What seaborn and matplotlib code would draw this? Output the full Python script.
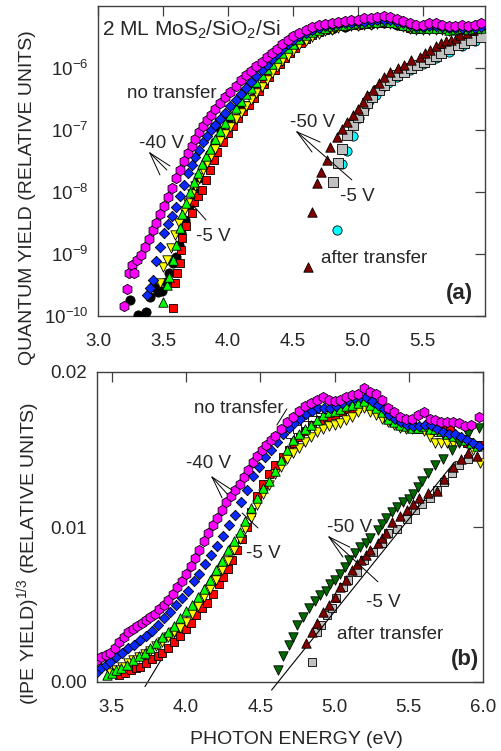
import numpy as np
import pandas as pd
import matplotlib
matplotlib.use("Agg")
import matplotlib.pyplot as plt
from matplotlib.ticker import NullLocator, FixedLocator, FixedFormatter
import seaborn as sns

# ---------------- data: panel (a), (photon energy eV, log10 quantum yield) ----------------
a_magenta = [(3.20,-9.84),(3.22,-9.57),(3.24,-9.30),(3.26,-9.18),(3.28,-9.30),(3.30,-9.10),
             (3.33,-9.02),(3.36,-8.88),(3.39,-8.75),(3.42,-8.62),(3.45,-8.50),(3.48,-8.36),
             (3.51,-8.22),(3.54,-8.08),(3.57,-7.94),(3.60,-7.78),(3.63,-7.64),(3.66,-7.50),
             (3.69,-7.37),(3.72,-7.25),(3.75,-7.14),(3.78,-7.03),(3.81,-6.93),(3.84,-6.84),
             (3.87,-6.75),(3.90,-6.66),(3.94,-6.56),(3.98,-6.47),(4.02,-6.38),(4.06,-6.29),
             (4.10,-6.20),(4.14,-6.12),(4.18,-6.05),(4.22,-5.97),(4.26,-5.90),(4.30,-5.83),
             (4.34,-5.76),(4.38,-5.69),(4.42,-5.62),(4.46,-5.55),(4.50,-5.49),(4.55,-5.43),
             (4.60,-5.38),(4.65,-5.34),(4.70,-5.31),(4.75,-5.29),(4.80,-5.27),(4.85,-5.25),
             (4.90,-5.24),(4.95,-5.23),(5.00,-5.22),(5.05,-5.20),(5.10,-5.19),(5.15,-5.18),
             (5.20,-5.16),(5.25,-5.18),(5.30,-5.21),(5.35,-5.24),(5.40,-5.28),(5.45,-5.31),
             (5.50,-5.30),(5.55,-5.28),(5.60,-5.28),(5.65,-5.30),(5.70,-5.33),(5.75,-5.32),
             (5.80,-5.31),(5.85,-5.32),(5.90,-5.30),(5.95,-5.28)]
a_blue = [(3.38,-9.66),(3.40,-9.55),(3.42,-9.42),(3.45,-9.12),(3.48,-8.88),(3.51,-8.66),
          (3.54,-8.52),(3.57,-8.38),(3.60,-8.24),(3.63,-8.06),(3.66,-7.88),(3.69,-7.69),
          (3.72,-7.56),(3.75,-7.44),(3.78,-7.32),(3.81,-7.20),(3.84,-7.09),(3.87,-7.00),
          (3.90,-6.92),(3.94,-6.82),(3.98,-6.72),(4.02,-6.62),(4.06,-6.52),(4.10,-6.42),
          (4.14,-6.32),(4.18,-6.23),(4.22,-6.13),(4.26,-6.04),(4.30,-5.95),(4.34,-5.86),
          (4.38,-5.78),(4.42,-5.70),(4.46,-5.62),(4.50,-5.55),(4.55,-5.48),(4.60,-5.43),
          (4.65,-5.39),(4.70,-5.36),(4.75,-5.33),(4.80,-5.31),(4.85,-5.29),(4.90,-5.28),
          (4.95,-5.27),(5.00,-5.26),(5.05,-5.25),(5.10,-5.24),(5.15,-5.23),(5.20,-5.22),
          (5.25,-5.23),(5.30,-5.25),(5.35,-5.28),(5.40,-5.31),(5.45,-5.34),(5.50,-5.34),
          (5.55,-5.33),(5.60,-5.33),(5.65,-5.34),(5.70,-5.36),(5.75,-5.36),(5.80,-5.35),
          (5.85,-5.36),(5.90,-5.35),(5.95,-5.34)]
a_black = [(3.25,-9.74),(3.31,-9.98),(3.37,-9.93),(3.40,-9.70),(3.43,-9.53),(3.46,-9.62),
           (3.49,-9.60),(3.52,-9.45),(3.55,-9.30),(3.58,-9.15),(3.60,-9.05),(3.62,-8.85),
           (3.64,-8.66),(3.67,-8.45),(3.70,-8.22),(3.74,-8.00),(3.78,-7.78),(3.82,-7.58),
           (3.86,-7.38),(3.90,-7.20),(3.95,-7.02),(4.00,-6.86),(4.10,-6.58),(4.20,-6.32),
           (4.30,-6.08),(4.40,-5.85),(4.50,-5.66),(4.60,-5.52),(4.70,-5.42),(4.80,-5.37),
           (4.90,-5.34),(5.00,-5.31),(5.10,-5.29),(5.20,-5.27),(5.30,-5.30),(5.40,-5.35),
           (5.50,-5.36),(5.60,-5.35),(5.70,-5.38),(5.80,-5.37),(5.90,-5.36)]
a_green = [(3.50,-9.77),(3.53,-9.50),(3.55,-9.37),(3.58,-9.10),(3.60,-8.85),(3.63,-8.58),
           (3.65,-8.36),(3.68,-8.17),(3.71,-8.00),(3.74,-7.84),(3.77,-7.69),(3.80,-7.55),
           (3.83,-7.42),(3.86,-7.30),(3.90,-7.15),(3.94,-7.01),(3.98,-6.88),(4.02,-6.76),
           (4.06,-6.64),(4.10,-6.53),(4.14,-6.42),(4.18,-6.32),(4.22,-6.22),(4.26,-6.12),
           (4.30,-6.02),(4.34,-5.93),(4.38,-5.84),(4.42,-5.76),(4.46,-5.68),(4.50,-5.61),
           (4.55,-5.53),(4.60,-5.47),(4.65,-5.42),(4.70,-5.38),(4.75,-5.35),(4.80,-5.33),
           (4.85,-5.31),(4.90,-5.30),(4.95,-5.29),(5.00,-5.28),(5.05,-5.27),(5.10,-5.26),
           (5.15,-5.25),(5.20,-5.24),(5.25,-5.25),(5.30,-5.27),(5.35,-5.30),(5.40,-5.33),
           (5.45,-5.36),(5.50,-5.36),(5.55,-5.35),(5.60,-5.35),(5.65,-5.36),(5.70,-5.38),
           (5.75,-5.37),(5.80,-5.36),(5.85,-5.37),(5.90,-5.36),(5.95,-5.35)]
a_yellow = [(3.48,-9.47),(3.50,-9.21),(3.53,-9.10),(3.56,-8.90),(3.59,-8.70),(3.62,-8.50),
            (3.66,-8.30),(3.69,-8.18),(3.72,-8.04),(3.75,-7.90),(3.78,-7.77),(3.81,-7.64),
            (3.84,-7.53),(3.87,-7.42),(3.90,-7.31),(3.94,-7.18),(3.98,-7.06),(4.02,-6.95),
            (4.06,-6.83),(4.10,-6.72),(4.14,-6.62),(4.18,-6.52),(4.22,-6.41),(4.26,-6.30),
            (4.30,-6.19),(4.34,-6.08),(4.38,-5.98),(4.42,-5.89),(4.46,-5.80),(4.50,-5.72),
            (4.55,-5.63),(4.60,-5.56),(4.65,-5.50),(4.70,-5.45),(4.75,-5.41),(4.80,-5.38),
            (4.85,-5.35),(4.90,-5.34),(4.95,-5.33),(5.00,-5.32),(5.05,-5.31),(5.10,-5.30),
            (5.15,-5.29),(5.20,-5.28),(5.25,-5.29),(5.30,-5.31),(5.35,-5.34),(5.40,-5.37),
            (5.45,-5.39),(5.50,-5.39),(5.55,-5.38),(5.60,-5.38),(5.65,-5.39),(5.70,-5.41),
            (5.75,-5.40),(5.80,-5.39),(5.85,-5.39),(5.90,-5.38),(5.95,-5.37)]
a_red = [(3.58,-9.87),(3.59,-9.47),(3.61,-9.30),(3.63,-9.15),(3.64,-8.94),(3.65,-8.74),
         (3.68,-8.55),(3.72,-8.34),(3.74,-8.16),(3.77,-8.06),(3.80,-7.96),(3.83,-7.80),
         (3.86,-7.64),(3.89,-7.48),(3.92,-7.36),(3.96,-7.20),(4.00,-7.05),(4.04,-6.93),
         (4.08,-6.81),(4.12,-6.70),(4.16,-6.60),(4.20,-6.48),(4.24,-6.37),(4.28,-6.25),
         (4.32,-6.14),(4.36,-6.03),(4.40,-5.93),(4.44,-5.84),(4.48,-5.75),(4.52,-5.67),
         (4.56,-5.59),(4.60,-5.53),(4.65,-5.47),(4.70,-5.42),(4.75,-5.38),(4.80,-5.35),
         (4.85,-5.33),(4.90,-5.32),(4.95,-5.31),(5.00,-5.30),(5.05,-5.29),(5.10,-5.28),
         (5.15,-5.27),(5.20,-5.26),(5.25,-5.27),(5.30,-5.29),(5.35,-5.32),(5.40,-5.35),
         (5.45,-5.37),(5.50,-5.37),(5.55,-5.36),(5.60,-5.36),(5.65,-5.37),(5.70,-5.39),
         (5.75,-5.38),(5.80,-5.37),(5.85,-5.38),(5.90,-5.37),(5.95,-5.36)]
a_maroon = [(4.62,-9.21),(4.65,-8.32),(4.69,-7.85),(4.72,-7.68),(4.76,-7.48),(4.79,-7.27),
            (4.84,-7.11),(4.88,-6.98),(4.92,-6.87),(4.96,-6.76),(5.00,-6.66),(5.04,-6.55),
            (5.07,-6.44),(5.12,-6.35),(5.16,-6.24),(5.20,-6.15),(5.25,-6.06),(5.31,-6.00),
            (5.36,-5.95),(5.41,-5.87),(5.48,-5.82),(5.52,-5.76),(5.56,-5.71),(5.60,-5.65),
            (5.64,-5.60),(5.68,-5.57),(5.72,-5.55),(5.76,-5.51),(5.79,-5.47),(5.84,-5.43),
            (5.89,-5.39),(5.96,-5.34)]
a_grey = [(4.81,-7.84),(4.85,-7.53),(4.88,-7.30),(4.92,-7.08),(4.96,-6.92),(5.00,-6.79),
          (5.04,-6.67),(5.07,-6.56),(5.11,-6.47),(5.16,-6.36),(5.20,-6.27),(5.25,-6.19),
          (5.30,-6.12),(5.36,-6.06),(5.41,-6.00),(5.46,-5.95),(5.51,-5.90),(5.56,-5.85),
          (5.60,-5.80),(5.64,-5.76),(5.70,-5.70),(5.77,-5.63),(5.82,-5.59),(5.87,-5.55),
          (5.95,-5.50)]
a_cyan = [(4.84,-8.61),(4.88,-7.55),(4.92,-7.34),(4.96,-7.10),(5.01,-6.81),(5.05,-6.66),
          (5.09,-6.54),(5.14,-6.43),(5.18,-6.32),(5.23,-6.24),(5.30,-6.15),(5.40,-6.04),
          (5.50,-5.94),(5.60,-5.84),(5.70,-5.74),(5.80,-5.64),(5.90,-5.56)]

# ---------------- data: panel (b), (photon energy eV, (IPE yield)^1/3) ----------------
b_magenta = [(3.40,.00142),(3.43,.00160),(3.46,.00175),(3.49,.00187),(3.52,.0022),(3.55,.0026),
             (3.58,.0029),(3.61,.0032),(3.64,.0034),(3.67,.0036),(3.70,.0038),(3.73,.0040),
             (3.76,.0042),(3.79,.0044),(3.82,.0047),(3.85,.0050),(3.88,.0053),(3.91,.0057),
             (3.94,.0061),(3.97,.0065),(4.00,.0070),(4.03,.0075),(4.06,.0080),(4.09,.0085),
             (4.12,.0091),(4.15,.0096),(4.18,.0101),(4.21,.0106),(4.24,.0111),(4.27,.0116),
             (4.30,.0120),(4.33,.0124),(4.36,.0128),(4.39,.0132),(4.42,.0137),(4.45,.0142),
             (4.48,.0146),(4.51,.0150),(4.54,.0153),(4.57,.0156),(4.60,.0159),(4.64,.0163),
             (4.68,.0168),(4.72,.0171),(4.76,.0175),(4.80,.0178),(4.84,.0180),(4.88,.0182),
             (4.92,.0184),(4.96,.0182),(5.00,.0181),(5.04,.0182),(5.08,.0184),(5.12,.0185),
             (5.16,.0186),(5.20,.0190),(5.24,.0187),(5.28,.0186),(5.32,.0182),(5.36,.0177),
             (5.40,.0174),(5.44,.0171),(5.48,.0170),(5.52,.0170),(5.56,.0172),(5.60,.0174),
             (5.64,.0170),(5.68,.0169),(5.72,.0168),(5.76,.0168),(5.80,.0168),(5.84,.0167),
             (5.88,.0165),(5.92,.0166),(5.97,.0171)]
b_blue = [(3.40,.00065),(3.43,.0009),(3.46,.0011),(3.49,.0013),(3.53,.0016),(3.57,.0019),
          (3.61,.0022),(3.65,.0024),(3.69,.0027),(3.73,.0030),(3.77,.0033),(3.81,.0037),
          (3.85,.0041),(3.89,.0045),(3.93,.0050),(3.97,.0054),(4.01,.0059),(4.05,.0065),
          (4.09,.0070),(4.13,.0076),(4.17,.0082),(4.21,.0088),(4.25,.0094),(4.29,.0101),
          (4.33,.0108),(4.37,.0116),(4.41,.0124),(4.45,.0133),(4.49,.0139),(4.53,.0145),
          (4.57,.0150),(4.61,.0155),(4.65,.0160),(4.69,.0164),(4.73,.0167),(4.77,.0170),
          (4.81,.0173),(4.85,.0175),(4.89,.0177),(4.93,.0177),(4.97,.0177),(5.01,.0178),
          (5.05,.0180),(5.09,.0182),(5.13,.0183),(5.17,.0184),(5.21,.0184),(5.25,.0181),
          (5.29,.0179),(5.33,.0176),(5.37,.0172),(5.41,.0170),(5.45,.0168),(5.49,.0166),
          (5.53,.0165),(5.57,.0165),(5.61,.0166),(5.65,.0166),(5.69,.0163),(5.73,.0161),
          (5.77,.0160),(5.81,.0160),(5.85,.0158),(5.89,.0156),(5.93,.0154),(5.97,.0152)]
b_green = [(3.47,.00045),(3.50,.0006),(3.53,.0008),(3.56,.0009),(3.60,.0011),(3.64,.0014),
           (3.68,.0017),(3.72,.0019),(3.76,.0022),(3.80,.0025),(3.84,.0029),(3.88,.0032),
           (3.92,.0036),(3.96,.0041),(4.00,.0046),(4.04,.0050),(4.08,.0055),(4.12,.0060),
           (4.16,.0066),(4.20,.0072),(4.24,.0078),(4.28,.0085),(4.32,.0091),(4.36,.0097),
           (4.40,.0104),(4.44,.0112),(4.48,.0119),(4.52,.0125),(4.56,.0130),(4.60,.0136),
           (4.64,.0143),(4.68,.0150),(4.72,.0156),(4.76,.0160),(4.80,.0163),(4.84,.0166),
           (4.88,.0169),(4.92,.0172),(4.96,.0174),(5.00,.0175),(5.04,.0176),(5.08,.0178),
           (5.12,.0179),(5.16,.0180),(5.20,.0181),(5.24,.0179),(5.28,.0177),(5.32,.0174),
           (5.36,.0170),(5.40,.0168),(5.44,.0166),(5.48,.0165),(5.52,.0164),(5.56,.0164),
           (5.60,.0165),(5.64,.0163),(5.68,.0163),(5.72,.0162),(5.76,.0160),(5.80,.0159),
           (5.84,.0158),(5.88,.0156),(5.92,.0154),(5.96,.0152)]
b_red = [(3.55,.00045),(3.59,.0006),(3.63,.0008),(3.66,.0009),(3.69,.0010),(3.73,.0012),
         (3.77,.0015),(3.81,.0017),(3.84,.0019),(3.88,.0022),(3.92,.0026),(3.96,.0030),
         (4.00,.0034),(4.03,.0038),(4.07,.0043),(4.11,.0048),(4.14,.0051),(4.18,.0057),
         (4.22,.0063),(4.25,.0068),(4.28,.0073),(4.31,.0079),(4.34,.0085),(4.38,.0092),
         (4.41,.0100),(4.44,.0110),(4.48,.0120),(4.52,.0128),(4.56,.0134),(4.60,.0140),
         (4.65,.0145),(4.69,.0150),(4.73,.0154),(4.77,.0158),(4.81,.0162),(4.85,.0166),
         (4.90,.0169),(4.95,.0171),(5.00,.0172),(5.05,.0174),(5.10,.0176),(5.15,.0177),
         (5.20,.0179),(5.25,.0177),(5.30,.0174),(5.35,.0171),(5.40,.0169),(5.46,.0167),
         (5.52,.0165),(5.58,.0164),(5.64,.0163),(5.69,.0163),(5.74,.0164),(5.78,.0163),
         (5.83,.0158),(5.89,.0154),(5.93,.0153),(5.97,.0153)]
b_yellow = [(3.49,.0006),(3.53,.0008),(3.57,.0010),(3.61,.0012),(3.64,.0014),(3.68,.0016),
            (3.72,.0018),(3.76,.0020),(3.80,.0023),(3.84,.0026),(3.88,.0029),(3.92,.0032),
            (3.96,.0035),(4.00,.0039),(4.04,.0044),(4.08,.0049),(4.12,.0055),(4.16,.0060),
            (4.20,.0066),(4.24,.0072),(4.28,.0078),(4.32,.0085),(4.36,.0092),(4.40,.0099),
            (4.44,.0106),(4.48,.0114),(4.52,.0121),(4.56,.0127),(4.60,.0134),(4.64,.0139),
            (4.68,.0144),(4.72,.0148),(4.76,.0151),(4.80,.0155),(4.84,.0158),(4.88,.0161),
            (4.92,.0163),(4.96,.0165),(5.00,.0166),(5.04,.0167),(5.08,.0169),(5.12,.0171),
            (5.16,.0174),(5.20,.0177),(5.24,.0174),(5.28,.0172),(5.32,.0170),(5.36,.0168),
            (5.40,.0166),(5.44,.0164),(5.48,.0163),(5.52,.0163),(5.56,.0164),(5.60,.0162),
            (5.64,.0158),(5.68,.0154),(5.72,.0154),(5.76,.0154),(5.80,.0154),(5.84,.0155),
            (5.88,.0155),(5.93,.0150),(5.98,.0141)]
b_white = [(4.70,.0160),(4.75,.0163),(4.80,.0166),(4.85,.0169),(4.90,.0171),(4.95,.0172),
           (5.00,.0173),(5.05,.0175),(5.10,.0177),(5.15,.0178),(5.20,.0181),(5.25,.0178),
           (5.30,.0175),(5.35,.0171),(5.40,.0168),(5.45,.0166),(5.50,.0164),(5.55,.0163),
           (5.60,.0163),(5.65,.0162),(5.70,.0161),(5.75,.0160),(5.80,.0159),(5.85,.0157),
           (5.90,.0155),(5.95,.0153)]
b_dkgreen = [(4.62,.00077),(4.65,.0017),(4.69,.0024),(4.72,.0029),(4.75,.0037),(4.79,.0042),
             (4.83,.0048),(4.87,.0052),(4.90,.0056),(4.94,.0059),(4.97,.0063),(5.00,.0066),
             (5.04,.0070),(5.07,.0074),(5.10,.0079),(5.14,.0083),(5.17,.0087),(5.21,.0090),
             (5.24,.0093),(5.29,.0098),(5.32,.0102),(5.35,.0106),(5.39,.0110),(5.42,.0113),
             (5.46,.0116),(5.50,.0118),(5.53,.0121),(5.56,.0126),(5.59,.0130),(5.63,.0135),
             (5.68,.0140),(5.73,.0144),(5.79,.0150),(5.84,.0154),(5.90,.0160),(5.97,.0164)]
b_maroon = [(4.81,.0025),(4.85,.0032),(4.88,.0038),(4.92,.0045),(4.96,.0050),(5.00,.0055),
            (5.04,.0061),(5.08,.0066),(5.12,.0072),(5.15,.0076),(5.18,.0079),(5.21,.0082),
            (5.24,.0085),(5.29,.0090),(5.32,.0093),(5.35,.0096),(5.39,.0103),(5.44,.0107),
            (5.49,.0111),(5.53,.0115),(5.57,.0119),(5.63,.0122),(5.69,.0123),(5.74,.0131),
            (5.80,.0139),(5.85,.0144),(5.90,.0148),(5.96,.0146)]
b_grey = [(4.85,.0013),(4.88,.0032),(4.91,.0037),(4.95,.0043),(4.98,.0048),(5.01,.0054),
          (5.06,.0061),(5.09,.0066),(5.15,.0071),(5.20,.0079),(5.26,.0084),(5.32,.0090),
          (5.36,.0096),(5.42,.0099),(5.49,.0105),(5.54,.0111),(5.59,.0115),(5.64,.0119),
          (5.69,.0124),(5.74,.0129),(5.79,.0135),(5.84,.0140),(5.90,.0144),(5.96,.0153)]
# linear threshold fits in panel (b)
fit_nt_E = [3.723, 4.30]
fit_nt_Y = [-0.0003, 0.0089]
fit_at_E = [4.576, 5.809]
fit_at_Y = [-0.00052, 0.0142]

a_xticks = [3.0, 3.5, 4.0, 4.5, 5.0, 5.5]
a_yticks = [1e-10, 1e-9, 1e-8, 1e-7, 1e-6]
a_ylabels = ["$10^{-10}$", "$10^{-9}$", "$10^{-8}$", "$10^{-7}$", "$10^{-6}$"]
b_xticks = [3.5, 4.0, 4.5, 5.0, 5.5, 6.0]
b_yticks = [0.0, 0.01, 0.02]
b_ylabels = ["0.00", "0.01", "0.02"]

# ---------------- styling ----------------
sns.set_theme(style="white")
plt.rcParams["font.family"] = ["Liberation Sans", "DejaVu Sans"]
plt.rcParams["mathtext.fontset"] = "custom"
plt.rcParams["mathtext.rm"] = "Liberation Sans"
plt.rcParams["mathtext.it"] = "Liberation Sans:italic"
plt.rcParams["mathtext.bf"] = "Liberation Sans:bold"
plt.rcParams["axes.unicode_minus"] = False

C_MAG, C_BLUE, C_GREEN, C_YEL, C_RED = "#ff00ff", "#0a28ff", "#00ff00", "#ffff00", "#ff0000"
C_MAR, C_GREY, C_CYAN, C_DKG = "#800000", "#c0c0c0", "#00ffff", "#006a00"
FRAME = "#404040"

fig = plt.figure(figsize=(5.02, 7.51), dpi=100)
axA = fig.add_axes([98/502, 1-316/751, 387/502, 310/751])
axB = fig.add_axes([97/502, 1-682/751, 386/502, 310/751])


def draw(ax, pairs, marker, color, size, z, log=False):
    df = pd.DataFrame(pairs, columns=["E", "Y"])
    if log:
        df["Y"] = 10.0 ** df["Y"]
    sns.scatterplot(data=df, x="E", y="Y", marker=marker, color=color, s=size,
                    edgecolor="black", linewidth=0.6, ax=ax, legend=False, zorder=z)


# panel (a)
draw(axA, a_cyan, "o", C_CYAN, 44, 3, True)
draw(axA, a_grey, "s", C_GREY, 42, 4, True)
draw(axA, a_maroon, "^", C_MAR, 46, 5, True)
draw(axA, a_black, "o", "black", 44, 3, True)
draw(axA, a_red, "s", C_RED, 38, 4, True)
draw(axA, a_yellow, "v", C_YEL, 46, 5, True)
draw(axA, a_green, "^", C_GREEN, 46, 6, True)
draw(axA, a_blue, "D", C_BLUE, 28, 7, True)
draw(axA, a_magenta, "h", C_MAG, 55, 8, True)
axA.set_yscale("log")
axA.set_xlim(3.0, 5.98)
axA.set_ylim(1e-10, 1e-5)

# panel (b)
sns.lineplot(x=fit_nt_E, y=fit_nt_Y, color="black", lw=0.8, ax=axB, estimator=None,
             sort=False, clip_on=False, zorder=2)
draw(axB, b_white, "s", "white", 38, 3)
draw(axB, b_red, "s", C_RED, 38, 4)
draw(axB, b_yellow, "v", C_YEL, 46, 5)
draw(axB, b_green, "^", C_GREEN, 46, 6)
draw(axB, b_blue, "D", C_BLUE, 28, 7)
draw(axB, b_magenta, "h", C_MAG, 53, 8)
draw(axB, b_grey, "s", C_GREY, 38, 4)
sns.lineplot(x=fit_at_E, y=fit_at_Y, color="black", lw=0.8, ax=axB, estimator=None,
             sort=False, clip_on=False, zorder=4.5)
draw(axB, b_maroon, "^", C_MAR, 46, 5)
draw(axB, b_dkgreen, "v", C_DKG, 46, 6)
axB.set_xlim(3.4, 6.0)
axB.set_ylim(0.0, 0.02)

for ax in (axA, axB):
    ax.set_xlabel("")
    ax.set_ylabel("")
    ax.tick_params(direction="in", top=True, right=True, length=7, width=0.9,
                   color=FRAME, labelsize=13.5, pad=7)
    ax.tick_params(axis="x", pad=12.5)
    for sp in ax.spines.values():
        sp.set_color(FRAME)
        sp.set_linewidth(1.0)

axA.xaxis.set_major_locator(FixedLocator(a_xticks))
axA.xaxis.set_major_formatter(FixedFormatter([f"{v:.1f}" for v in a_xticks]))
axA.yaxis.set_major_locator(FixedLocator(a_yticks))
axA.yaxis.set_major_formatter(FixedFormatter(a_ylabels))
axA.yaxis.set_minor_locator(NullLocator())
axB.xaxis.set_major_locator(FixedLocator(b_xticks))
axB.xaxis.set_major_formatter(FixedFormatter([f"{v:.1f}" for v in b_xticks]))
axB.yaxis.set_major_locator(FixedLocator(b_yticks))
axB.yaxis.set_major_formatter(FixedFormatter(b_ylabels))


def seg(ax, p, q):
    ax.plot([p[0], q[0]], [p[1], q[1]], color="black", lw=0.7, transform=ax.transAxes, zorder=10)


# annotations (a)
fs = 13.5
axA.text(0.010, 0.923, "2 ML MoS$_2$/SiO$_2$/Si", transform=axA.transAxes, fontsize=15,
         ha="left", va="center")
axA.text(0.191, 0.719, "no transfer", transform=axA.transAxes, fontsize=fs, ha="center", va="center")
axA.text(0.165, 0.558, "-40 V", transform=axA.transAxes, fontsize=fs, ha="center", va="center")
for q in [(0.186, 0.484), (0.178, 0.471), (0.160, 0.455)]:
    seg(axA, (0.134, 0.526), q)
axA.text(0.297, 0.255, "-5 V", transform=axA.transAxes, fontsize=fs, ha="center", va="center")
seg(axA, (0.245, 0.358), (0.279, 0.310))
axA.text(0.555, 0.623, "-50 V", transform=axA.transAxes, fontsize=fs, ha="center", va="center")
for q in [(0.574, 0.561), (0.553, 0.529), (0.656, 0.439)]:
    seg(axA, (0.514, 0.594), q)
axA.text(0.669, 0.384, "-5 V", transform=axA.transAxes, fontsize=fs, ha="center", va="center")
axA.text(0.713, 0.187, "after transfer", transform=axA.transAxes, fontsize=fs, ha="center", va="center")
axA.text(0.933, 0.074, "(a)", transform=axA.transAxes, fontsize=16, fontweight="bold",
         ha="center", va="center")

# annotations (b)
axB.text(0.368, 0.881, "no transfer", transform=axB.transAxes, fontsize=fs, ha="center", va="center")
seg(axB, (0.492, 0.881), (0.466, 0.829))
axB.text(0.288, 0.706, "-40 V", transform=axB.transAxes, fontsize=fs, ha="center", va="center")
for q in [(0.350, 0.619), (0.337, 0.607), (0.324, 0.594)]:
    seg(axB, (0.298, 0.661), q)
axB.text(0.430, 0.416, "-5 V", transform=axB.transAxes, fontsize=fs, ha="center", va="center")
seg(axB, (0.376, 0.545), (0.417, 0.497))
axB.text(0.655, 0.500, "-50 V", transform=axB.transAxes, fontsize=fs, ha="center", va="center")
for q in [(0.655, 0.435), (0.637, 0.403), (0.728, 0.323)]:
    seg(axB, (0.601, 0.468), q)
axB.text(0.741, 0.255, "-5 V", transform=axB.transAxes, fontsize=fs, ha="center", va="center")
axB.text(0.759, 0.152, "after transfer", transform=axB.transAxes, fontsize=fs, ha="center", va="center")
axB.text(0.953, 0.071, "(b)", transform=axB.transAxes, fontsize=16, fontweight="bold",
         ha="center", va="center")

# axis titles
fig.text(28/502, 1-198/751, "QUANTUM YIELD (RELATIVE UNITS)", rotation=90, fontsize=14,
         ha="center", va="center")
fig.text(28/502, 1-553/751, "(IPE YIELD)$^{1/3}$ (RELATIVE UNITS)", rotation=90, fontsize=14,
         ha="center", va="center")
fig.text(296/502, 1-740/751, "PHOTON ENERGY (eV)", fontsize=14, ha="center", va="center")

fig.savefig("out.png", dpi=100)
